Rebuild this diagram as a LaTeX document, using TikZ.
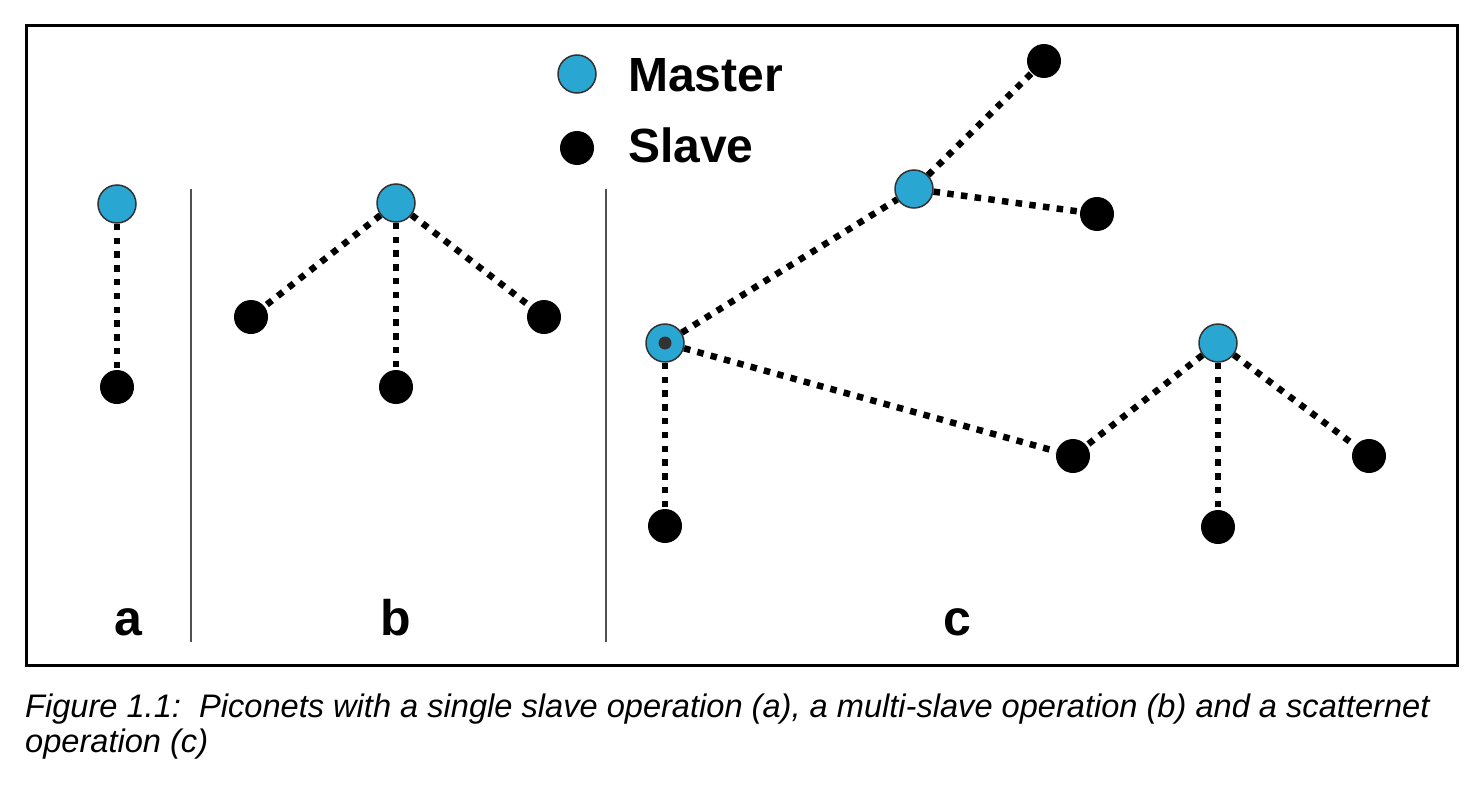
\documentclass[tikz,border=0pt]{standalone}
\usepackage{fontspec}
\setmainfont{Liberation Sans}
\definecolor{masterblue}{RGB}{42,166,210}
\definecolor{rimgray}{RGB}{50,50,50}
\definecolor{divgray}{RGB}{80,80,80}
\begin{document}
\begin{tikzpicture}[x=1pt,y=-1pt,
  master/.style={circle,fill=masterblue,draw=rimgray,line width=1.5pt,minimum size=38pt,inner sep=0pt},
  slave/.style={circle,fill=black,minimum size=34pt,inner sep=0pt},
  link/.style={line width=6.5pt,dash pattern=on 6.5pt off 7.3pt},
  lbl/.style={font=\fontsize{50}{50}\selectfont\bfseries,anchor=base},
  legtxt/.style={font=\fontsize{48}{48}\selectfont\bfseries,anchor=base west,inner sep=0pt},
  divider/.style={draw=divgray,line width=1.5pt}]
\useasboundingbox (0,0) rectangle (1482,784);
\node[draw,line width=3pt,minimum width=1431pt,minimum height=640pt,anchor=north west,inner sep=0pt] (frame) at (25,24) {};
% legend
\node[master] (lm) at (577,74) {};
\node[slave] (ls) at (577,148) {};
\node[legtxt] (lmt) at (628,92) {Master};
\node[legtxt] (lst) at (628,162) {Slave};
% dividers
\coordinate (d1a) at (191,189); \coordinate (d1b) at (191,642);
\coordinate (d2a) at (606,189); \coordinate (d2b) at (606,642);
\draw[divider] (d1a) -- (d1b);
\draw[divider] (d2a) -- (d2b);
% (a)
\node[master] (am) at (117,204) {};
\node[slave] (as) at (117,387) {};
\draw[link] (am) -- (as);
% (b)
\node[master] (bm) at (396,203) {};
\node[slave] (bs1) at (251,317) {};
\node[slave] (bs2) at (396,387) {};
\node[slave] (bs3) at (544,317) {};
\draw[link] (bm) -- (bs1);
\draw[link] (bm) -- (bs2);
\draw[link] (bm) -- (bs3);
% (c)
\node[master] (c1) at (665,343) {};
\node[circle,fill=rimgray,minimum size=13pt,inner sep=0pt] (c1dot) at (665,343) {};
\node[master] (c2) at (914,189) {};
\node[master] (c3) at (1218,343) {};
\node[slave] (cs1) at (1044,61) {};
\node[slave] (cs2) at (1097,214) {};
\node[slave] (cs3) at (665,526) {};
\node[slave] (cs4) at (1073,456) {};
\node[slave] (cs5) at (1369,456) {};
\node[slave] (cs6) at (1218,527) {};
\draw[link] (c2) -- (cs1);
\draw[link] (c2) -- (cs2);
\draw[link] (c1) -- (c2);
\draw[link] (c1) -- (cs4);
\draw[link] (c1) -- (cs3);
\draw[link] (c3) -- (cs4);
\draw[link] (c3) -- (cs6);
\draw[link] (c3) -- (cs5);
% labels
\node[lbl] (la) at (128,635) {a};
\node[lbl] (lb) at (396,635) {b};
\node[lbl] (lc) at (957,635) {c};
% caption
\node[anchor=base west,inner sep=0pt,font=\fontsize{32.6}{35}\selectfont\itshape,align=left] (cap) at (25,752)
  {Figure 1.1:\ \ Piconets with a single slave operation (a), a multi-slave operation (b) and a scatternet\\operation (c)};
\end{tikzpicture}
\end{document}
